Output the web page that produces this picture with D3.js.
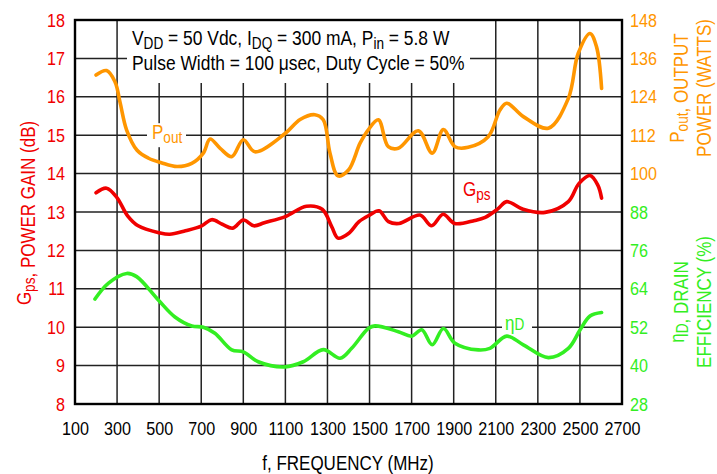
<!DOCTYPE html>
<html>
<head>
<meta charset="utf-8">
<script src="https://cdn.jsdelivr.net/npm/d3@7"></script>
<style>
  body { margin: 0; background: #fff; }
  svg text { font-family: "Liberation Sans", Arial, sans-serif; }
</style>
</head>
<body>
<svg id="chart" width="717" height="474"></svg>
<script>
// tick labels
var freqTicks = [100, 300, 500, 700, 900, 1100, 1300, 1500, 1700, 1900, 2100, 2300, 2500, 2700];
var gainTicks = [8, 9, 10, 11, 12, 13, 14, 15, 16, 17, 18];
var rightTicks = [28, 40, 52, 64, 76, 88, 100, 112, 124, 136, 148];

// Gps (dB)
var gainFreq = [200, 250, 300, 350, 400, 500, 550, 625, 700, 750, 800, 850, 900, 950, 1000, 1100, 1200, 1275, 1320, 1350, 1400, 1450, 1500, 1545, 1590, 1640, 1740, 1795, 1850, 1905, 2000, 2050, 2110, 2152, 2230, 2334, 2445, 2495, 2548, 2585, 2603];
var gainVal = [13.50, 13.62, 13.37, 12.90, 12.64, 12.46, 12.42, 12.51, 12.63, 12.80, 12.68, 12.58, 12.79, 12.64, 12.72, 12.88, 13.15, 13.07, 12.62, 12.32, 12.44, 12.75, 12.92, 13.03, 12.75, 12.70, 12.92, 12.64, 12.94, 12.70, 12.78, 12.86, 13.08, 13.27, 13.07, 12.99, 13.27, 13.74, 13.95, 13.70, 13.36];

// Pout (W)
var poutFreq = [200, 250, 290, 315, 345, 395, 450, 510, 585, 655, 710, 742, 790, 845, 900, 955, 1100, 1170, 1240, 1280, 1312, 1350, 1400, 1455, 1494, 1542, 1589, 1637, 1732, 1798, 1851, 1906, 1969, 2064, 2120, 2152, 2231, 2350, 2445, 2492, 2548, 2579, 2603];
var poutVal = [130.8, 132.2, 128.7, 122.0, 113.7, 107.3, 104.8, 103.4, 102.2, 103.2, 106.4, 110.8, 107.9, 105.3, 110.6, 106.8, 112.6, 116.9, 118.4, 116.8, 106.4, 99.3, 101.1, 109.5, 113.7, 116.8, 108.4, 107.9, 113.4, 106.4, 113.8, 108.4, 108.2, 111.5, 119.9, 122.0, 117.8, 114.2, 123.5, 137.6, 143.8, 139.6, 126.6];

// Drain efficiency (%)
var effFreq = [195, 258, 346, 393, 496, 575, 655, 710, 765, 845, 900, 971, 1098, 1185, 1280, 1360, 1415, 1494, 1526, 1637, 1700, 1748, 1798, 1851, 1906, 2017, 2072, 2152, 2231, 2350, 2445, 2501, 2548, 2603];
var effVal = [60.8, 65.7, 68.8, 67.8, 60.5, 55.2, 52.4, 52.0, 50.1, 44.9, 44.3, 41.2, 39.6, 41.2, 45.0, 42.3, 45.4, 51.6, 52.4, 50.6, 49.2, 51.2, 46.5, 51.6, 47.0, 44.9, 45.4, 49.2, 46.5, 42.5, 45.4, 51.2, 55.5, 56.6];

var RED = '#f00000', ORANGE = '#ff9600', GREEN = '#33ee22';
var NARROW = 'scale(0.85,1)'; // the original uses a condensed face

var svg = d3.select('#chart');
var plotL = 75, plotR = 622, plotT = 20, plotB = 404;

var x = d3.scaleLinear().domain([100, 2700]).range([plotL, plotR]);
var yL = d3.scaleLinear().domain([8, 18]).range([plotB, plotT]);
var yR = d3.scaleLinear().domain([28, 148]).range([plotB, plotT]);

// grid
var grid = svg.append('g').attr('stroke', '#222').attr('stroke-width', 1.5);
grid.selectAll('line.v').data(freqTicks.slice(1, -1)).enter().append('line')
    .attr('x1', function (d) { return x(d); }).attr('x2', function (d) { return x(d); })
    .attr('y1', plotT).attr('y2', plotB);
grid.selectAll('line.h').data(gainTicks.slice(1, -1)).enter().append('line')
    .attr('x1', plotL).attr('x2', plotR)
    .attr('y1', function (d) { return yL(d); }).attr('y2', function (d) { return yL(d); });

// white backing for labels sitting on the grid
svg.append('rect').attr('x', 127).attr('y', plotT + 1).attr('width', 343).attr('height', 62).attr('fill', '#fff');
svg.append('rect').attr('x', 147).attr('y', yL(15) - 12).attr('width', 39).attr('height', 24).attr('fill', '#fff');
svg.append('rect').attr('x', 502).attr('y', yR(52) - 10).attr('width', 30).attr('height', 20).attr('fill', '#fff');

// frame
svg.append('rect').attr('x', plotL).attr('y', plotT).attr('width', plotR - plotL).attr('height', plotB - plotT)
    .attr('fill', 'none').attr('stroke', '#000').attr('stroke-width', 2.4);

// axes (labels only)
var axisX = d3.axisBottom(x).tickValues(freqTicks).tickFormat(d3.format('d')).tickSize(0).tickPadding(0);
var gx = svg.append('g').attr('transform', 'translate(0,' + (plotB + 17) + ')').call(axisX);
gx.select('.domain').remove();
gx.selectAll('text').attr('font-size', 19).attr('fill', '#000').attr('dy', '0.71em').attr('transform', NARROW);

var axisL = d3.axisLeft(yL).tickValues(gainTicks).tickFormat(d3.format('d')).tickSize(0).tickPadding(0);
var gl = svg.append('g').attr('transform', 'translate(' + (plotL - 10) + ',0)').call(axisL);
gl.select('.domain').remove();
gl.selectAll('text').attr('font-size', 19).attr('fill', RED).attr('transform', NARROW);

var axisR = d3.axisRight(yR).tickValues(rightTicks).tickFormat(d3.format('d')).tickSize(0).tickPadding(0);
var gr = svg.append('g').attr('transform', 'translate(' + (plotR + 8) + ',0)').call(axisR);
gr.select('.domain').remove();
gr.selectAll('text').attr('font-size', 19).attr('transform', NARROW)
    .attr('fill', function (d) { return d >= 100 ? ORANGE : GREEN; });

// curves
var line = d3.line().curve(d3.curveCatmullRom.alpha(0.5));
function drawCurve(fs, vs, yScale, color) {
    var pts = fs.map(function (f, i) { return [x(f), yScale(vs[i])]; });
    svg.append('path').attr('d', line(pts)).attr('fill', 'none')
        .attr('stroke', color).attr('stroke-width', 3.6)
        .attr('stroke-linecap', 'round').attr('stroke-linejoin', 'round');
}
drawCurve(poutFreq, poutVal, yR, ORANGE);
drawCurve(gainFreq, gainVal, yL, RED);
drawCurve(effFreq, effVal, yR, GREEN);

// text helpers
function label(tx, ty, rot, size, color, anchor) {
    return svg.append('g')
        .attr('transform', 'translate(' + tx + ',' + ty + ') rotate(' + rot + ') ' + NARROW)
        .append('text').attr('font-size', size).attr('fill', color)
        .attr('text-anchor', anchor || 'start');
}
function sub(t, main, s, size) {
    t.append('tspan').text(main);
    t.append('tspan').attr('font-size', size * 0.8).attr('dy', 4).text(s);
    t.append('tspan').attr('dy', -4).text('');
}

var note = label(132, 45, 0, 20.5, '#000');
note.append('tspan').text('V');
note.append('tspan').attr('font-size', 16).attr('dy', 4).text('DD');
note.append('tspan').attr('dy', -4).text(' = 50 Vdc, I');
note.append('tspan').attr('font-size', 16).attr('dy', 4).text('DQ');
note.append('tspan').attr('dy', -4).text(' = 300 mA, P');
note.append('tspan').attr('font-size', 16).attr('dy', 4).text('in');
note.append('tspan').attr('dy', -4).text(' = 5.8 W');
label(132, 70, 0, 20.5, '#000').text('Pulse Width = 100 \u03bcsec, Duty Cycle = 50%');

sub(label(152, 139, 0, 20, ORANGE), 'P', 'out', 20);
sub(label(463, 196, 0, 20, RED), 'G', 'ps', 20);
var te = label(505, 330, 0, 20, GREEN);
te.append('tspan').text('\u03b7');
te.append('tspan').attr('font-size', 16).text('D');

// axis titles
label(348, 470, 0, 20, '#000', 'middle').text('f, FREQUENCY (MHz)');

var tl = label(31, 213, -90, 20, RED, 'middle');
sub(tl, 'G', 'ps', 20);
tl.append('tspan').text(', POWER GAIN (dB)');

var tr1 = label(684, 88, -90, 20, ORANGE, 'middle');
sub(tr1, 'P', 'out', 20);
tr1.append('tspan').text(', OUTPUT');
label(711, 88, -90, 20, ORANGE, 'middle').text('POWER (WATTS)');

var tr3 = label(684, 302, -90, 20, GREEN, 'middle');
sub(tr3, '\u03b7', 'D', 20);
tr3.append('tspan').text(', DRAIN');
label(711, 302, -90, 20, GREEN, 'middle').text('EFFICIENCY (%)');
</script>
</body>
</html>
